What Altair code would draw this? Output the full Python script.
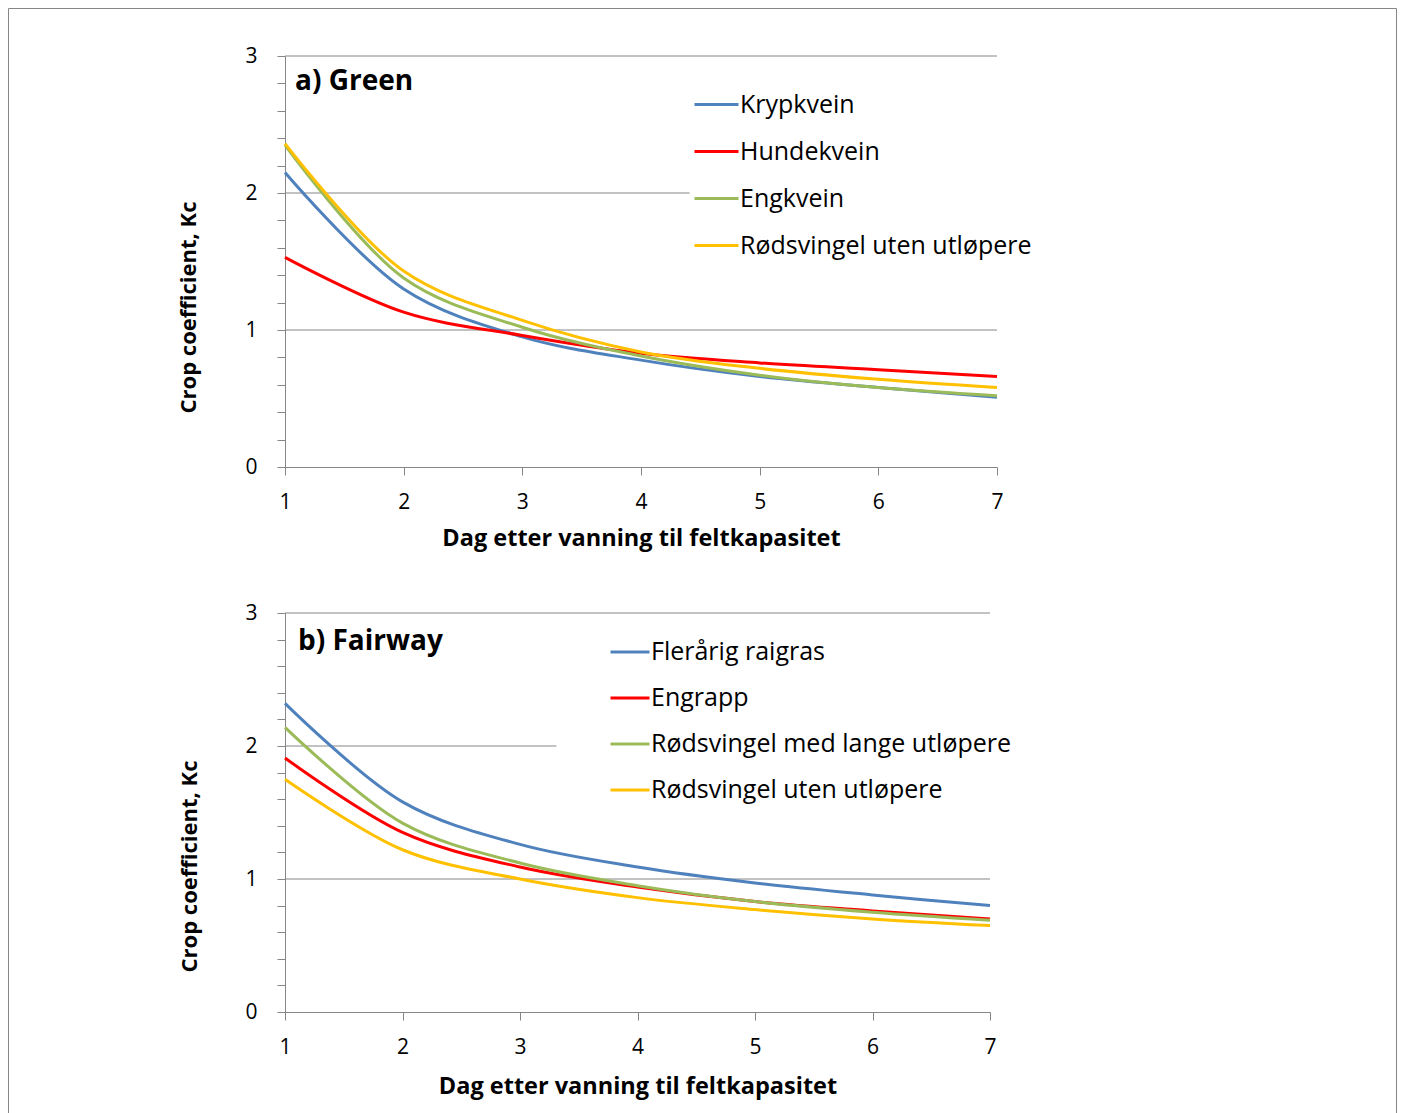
import altair as alt
import pandas as pd

FONT = "Open Sans"
GRAY = "#868686"

days = [1, 2, 3, 4, 5, 6, 7]

# Panel a) Green
green_names = ["Krypkvein", "Hundekvein", "Engkvein", "Rødsvingel uten utløpere"]
krypkvein = [2.15, 1.30, 0.95, 0.78, 0.66, 0.58, 0.51]
hundekvein = [1.53, 1.13, 0.96, 0.83, 0.76, 0.71, 0.66]
engkvein = [2.35, 1.38, 1.02, 0.81, 0.67, 0.58, 0.52]
rodsvingel_uten_green = [2.36, 1.43, 1.07, 0.84, 0.72, 0.64, 0.58]

# Panel b) Fairway
fairway_names = ["Flerårig raigras", "Engrapp", "Rødsvingel med lange utløpere", "Rødsvingel uten utløpere"]
flerarig_raigras = [2.32, 1.58, 1.26, 1.09, 0.97, 0.88, 0.80]
engrapp = [1.91, 1.35, 1.09, 0.94, 0.83, 0.76, 0.70]
rodsvingel_med_lange = [2.14, 1.42, 1.12, 0.95, 0.83, 0.75, 0.69]
rodsvingel_uten_fairway = [1.75, 1.22, 1.00, 0.86, 0.77, 0.70, 0.65]

colors = ["#4F81BD", "#FF0000", "#9BBB59", "#FFC000"]

y_tick_values = [0, 0.2, 0.4, 0.6, 0.8, 1, 1.2, 1.4, 1.6, 1.8, 2, 2.2, 2.4, 2.6, 2.8, 3]
x_tick_values = [1, 2, 3, 4, 5, 6, 7]

grid_levels = [1, 2, 3]
green_grid_end = [7, 4.41, 7]
fairway_grid_end = [7, 3.31, 7]

x_title = "Dag etter vanning til feltkapasitet"
y_title = "Crop coefficient, Kc"


def long_df(names, series):
    rows = []
    for name, vals in zip(names, series):
        for d, v in zip(days, vals):
            rows.append({"day": d, "kc": v, "series": name})
    return pd.DataFrame(rows)


def panel(names, series, grid_end, title, w, h, lx, ly, row_pad, sym, ytx, yty, xty,
          title_dx, title_dy, title_size, frame=False):
    df = long_df(names, series)
    grid_df = pd.DataFrame({"y": grid_levels, "x0": [1] * 3, "x1": grid_end})
    title_df = pd.DataFrame({"day": [1], "kc": [3], "t": [title]})

    xs = alt.Scale(domain=[1, 7], nice=False, zero=False)
    ys = alt.Scale(domain=[0, 3], nice=False, zero=True)

    x_axis = alt.Axis(values=x_tick_values, title=x_title, grid=False, format="d",
                      tickSize=8, labelPadding=33, labelBaseline="alphabetic",
                      labelOverlap=False, labelFlush=False, titleFontSize=23.5,
                      titleY=xty, titleBaseline="middle")
    y_axis = alt.Axis(values=y_tick_values, title=y_title, grid=False,
                      tickSize=8, labelPadding=20, labelOverlap=False, labelFlush=False,
                      labelExpr="abs(datum.value - round(datum.value)) < 0.001 ? format(datum.value, 'd') : ''",
                      titleFontSize=22,
                      titleX=ytx, titleY=yty, titleAngle=270, titleAlign="center",
                      titleBaseline="middle")

    grid = alt.Chart(grid_df).mark_rule(color=GRAY, strokeWidth=1).encode(
        x=alt.X("x0:Q", scale=xs, axis=x_axis),
        x2="x1:Q",
        y=alt.Y("y:Q", scale=ys, axis=y_axis),
    )

    lines = alt.Chart(df).mark_line(strokeWidth=3, interpolate="catmull-rom").encode(
        x=alt.X("day:Q", scale=xs, axis=x_axis),
        y=alt.Y("kc:Q", scale=ys, axis=y_axis),
        color=alt.Color(
            "series:N",
            scale=alt.Scale(domain=names, range=colors),
            sort=names,
            legend=alt.Legend(
                orient="none", legendX=lx, legendY=ly, title=None,
                symbolType="stroke", symbolSize=sym * sym, symbolStrokeWidth=3,
                labelFontSize=25, labelFont=FONT, labelColor="black",
                labelOffset=0, rowPadding=row_pad, padding=0, labelLimit=600,
            ),
        ),
        detail="series:N",
    )

    ttl = alt.Chart(title_df).mark_text(
        align="left", baseline="alphabetic", dx=title_dx, dy=title_dy,
        font=FONT, fontSize=title_size, fontWeight="bold", color="black",
    ).encode(x=alt.X("day:Q", scale=xs, axis=x_axis),
             y=alt.Y("kc:Q", scale=ys, axis=y_axis), text="t:N")

    layers = [grid, lines, ttl]
    if frame:
        border = alt.Chart(title_df).mark_rect(
            fillOpacity=0, stroke=GRAY, strokeWidth=1
        ).encode(
            x=alt.value(-276.5), x2=alt.value(1111.5),
            y=alt.value(-47.5), y2=alt.value(1060),
        )
        layers = [border] + layers
    return alt.layer(*layers).properties(width=w, height=h)


top = panel(green_names, [krypkvein, hundekvein, engkvein, rodsvingel_uten_green],
            green_grid_end, "a) Green", 712, 411, 408, 25, 10, 44, -97, 251, 71, 10, 34, 28,
            frame=True)
bottom = panel(fairway_names, [flerarig_raigras, engrapp, rodsvingel_med_lange, rodsvingel_uten_fairway],
               fairway_grid_end, "b) Fairway", 705, 399, 324, 18, 12, 39, -96, 253, 74, 13, 37, 28)

chart = alt.vconcat(top, bottom, spacing=146, bounds="flush").resolve_scale(
    color="independent"
).properties(
    padding={"left": 0, "top": 0, "right": 0, "bottom": 0}
).configure_view(stroke=None).configure_axis(
    domainColor=GRAY, tickColor=GRAY, domainWidth=1, tickWidth=1,
    labelFont=FONT, labelFontSize=21, labelColor="black",
    titleFont=FONT, titleFontSize=23, titleFontWeight="bold", titleColor="black",
)

chart.save("out.html", embed_options={"renderer": "svg", "actions": False})
